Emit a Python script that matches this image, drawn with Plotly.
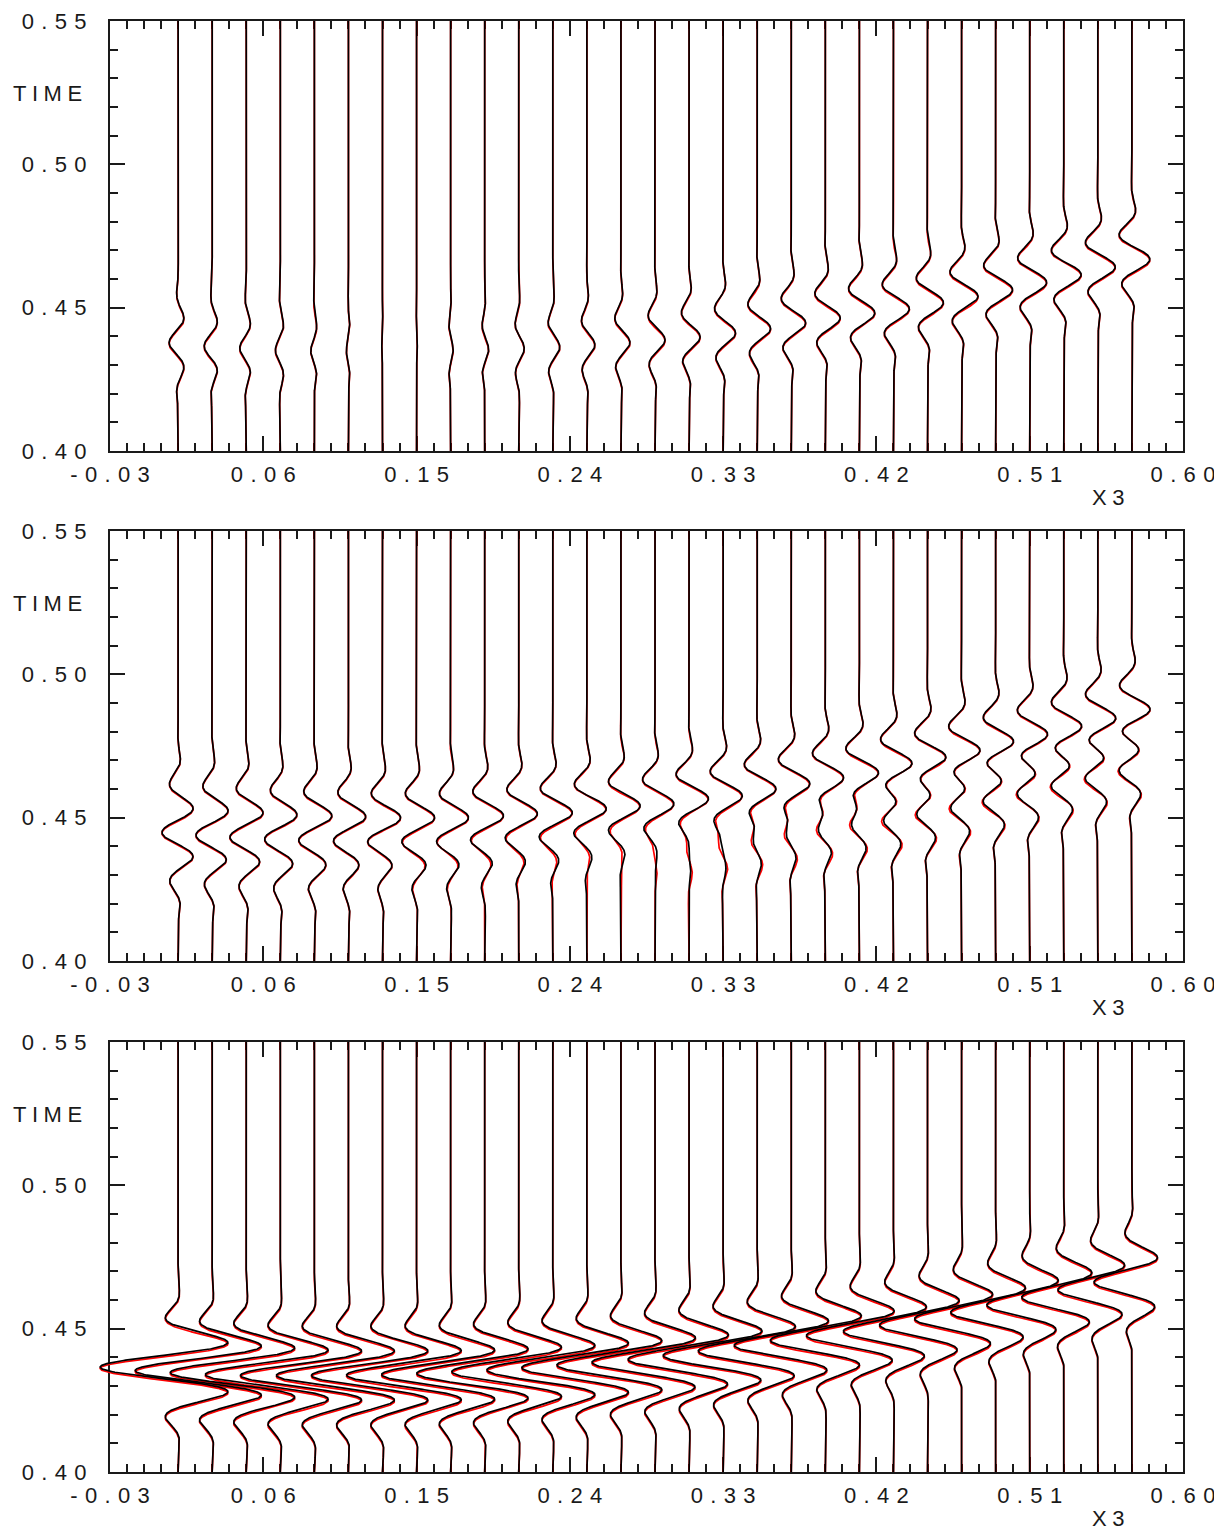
import numpy as np
import plotly.graph_objects as go

# ---------------- data ----------------
x_tick_vals = [-0.03, 0.06, 0.15, 0.24, 0.33, 0.42, 0.51, 0.60]
x_tick_labels = ["-0.03", "0.06", "0.15", "0.24", "0.33", "0.42", "0.51", "0.60"]
y_tick_vals = [0.40, 0.45, 0.50, 0.55]
y_tick_labels = ["0.40", "0.45", "0.50", "0.55"]
x_axis_title = "X3"
y_axis_title = "TIME"

# receiver positions (X3) of the 29 traces
trace_x3 = [0.01, 0.03, 0.05, 0.07, 0.09, 0.11, 0.13, 0.15, 0.17, 0.19,
            0.21, 0.23, 0.25, 0.27, 0.29, 0.31, 0.33, 0.35, 0.37, 0.39,
            0.41, 0.43, 0.45, 0.47, 0.49, 0.51, 0.53, 0.55, 0.57]

# panel 1 : one arrival per trace (time, signed amplitude in X3 units, phase)
p1_time = [0.4378, 0.4366, 0.4359, 0.4352, 0.4349, 0.4349, 0.4349, 0.4350, 0.4352, 0.4356,
           0.4362, 0.4368, 0.4376, 0.4385, 0.4395, 0.4406, 0.4420, 0.4436, 0.4456, 0.4474,
           0.4491, 0.4506, 0.4528, 0.4550, 0.4573, 0.4599, 0.4626, 0.4653, 0.4680]
p1_amp = [-0.0053, -0.0047, -0.0038, -0.0029, -0.0021, -0.0012, -0.0005, 0.0005, 0.0015, 0.0023,
          0.0032, 0.0041, 0.0047, 0.0053, 0.0059, 0.0065, 0.0073, 0.0079, 0.0085, 0.0088,
          0.0091, 0.0094, 0.0094, 0.0097, 0.0100, 0.0100, 0.0103, 0.0103, 0.0106]
p1_phase = [0, 0, 0, 0, 0, 0, 0, 0, 0.05, 0.10,
            0.15, 0.20, 0.22, 0.25, 0.27, 0.30, 0.30, 0.32, 0.33, 0.35,
            0.35, 0.36, 0.37, 0.38, 0.38, 0.39, 0.40, 0.40, 0.40]

# panel 2 : arrival A (positive) + arrival B (same times as panel 3)
p2a_time = [0.4534, 0.4527, 0.4520, 0.4513, 0.4509, 0.4506, 0.4502, 0.4502, 0.4502, 0.4509,
            0.4516, 0.4520, 0.4534, 0.4544, 0.4551, 0.4569, 0.4579, 0.4603, 0.4621, 0.4642,
            0.4659, 0.4691, 0.4712, 0.4736, 0.4767, 0.4792, 0.4820, 0.4848, 0.4879]
p2a_amp = [0.0076, 0.0082, 0.0088, 0.0088, 0.0094, 0.0094, 0.0100, 0.0100, 0.0100, 0.0106,
           0.0106, 0.0112, 0.0112, 0.0112, 0.0112, 0.0117, 0.0117, 0.0117, 0.0117, 0.0117,
           0.0123, 0.0117, 0.0117, 0.0117, 0.0112, 0.0112, 0.0112, 0.0112, 0.0112]
p2a_phase = [0.1] * 29
p2b_amp_black = [0.0076, 0.0070, 0.0065, 0.0059, 0.0053, 0.0047, 0.0041, 0.0041, 0.0035, 0.0029,
                 0.0023, 0.0018, 0.0012, 0.0006, -0.0006, -0.0018, -0.0029, -0.0041, -0.0047, -0.0059,
                 -0.0065, -0.0070, -0.0076, -0.0076, -0.0082, -0.0082, -0.0082, -0.0082, -0.0082]
p2b_amp_red = [0.0076, 0.0070, 0.0065, 0.0059, 0.0053, 0.0047, 0.0041, 0.0035, 0.0029, 0.0021,
               0.0015, 0.0006, 0.0000, -0.0009, -0.0021, -0.0032, -0.0044, -0.0053, -0.0059, -0.0070,
               -0.0076, -0.0082, -0.0085, -0.0085, -0.0088, -0.0088, -0.0088, -0.0088, -0.0088]

# panel 3 : one strong arrival per trace
p3_time = [0.4366, 0.4354, 0.4347, 0.4340, 0.4337, 0.4337, 0.4337, 0.4338, 0.4340, 0.4344,
           0.4350, 0.4356, 0.4364, 0.4373, 0.4383, 0.4394, 0.4408, 0.4424, 0.4444, 0.4462,
           0.4479, 0.4494, 0.4516, 0.4538, 0.4561, 0.4587, 0.4614, 0.4641, 0.4668]
p3_amp = [-0.0458, -0.0452, -0.0446, -0.0440, -0.0434, -0.0423, -0.0417, -0.0411, -0.0405, -0.0399,
          -0.0393, -0.0387, -0.0382, -0.0376, -0.0370, -0.0358, -0.0352, -0.0346, -0.0335, -0.0323,
          -0.0311, -0.0294, -0.0282, -0.0276, -0.0264, -0.0252, -0.0247, -0.0235, -0.0223]
p3_phase = [0, 0, 0, 0, 0, 0, 0, 0, 0, 0, 0, 0, 0, 0,
            0.02, 0.04, 0.05, 0.06, 0.08, 0.09, 0.10, 0.11, 0.12, 0.13, 0.14, 0.15, 0.16, 0.18, 0.20]

# red (second computation) time offsets per panel
red_time_shift = [-0.0004, -0.0003, -0.0005]

# source wavelet
WAVELET_FREQ = 53.1      # Hz
WAVELET_SIGMA = 0.0134   # s

# ---------------- helpers ----------------
t = np.linspace(0.40, 0.55, 1501)


def wavelet(tc, amp, ph):
    tau = t - tc
    return amp * np.exp(-(tau / WAVELET_SIGMA) ** 2) * np.cos(2 * np.pi * WAVELET_FREQ * tau + ph)


def panel_events(panel, k, red):
    dt = red_time_shift[panel] if red else 0.0
    if panel == 0:
        return [(p1_time[k] + dt, p1_amp[k], p1_phase[k])]
    if panel == 1:
        b = p2b_amp_red[k] if red else p2b_amp_black[k]
        return [(p2a_time[k] + dt, p2a_amp[k], p2a_phase[k]), (p3_time[k] + dt, b, 0.0)]
    return [(p3_time[k] + dt, p3_amp[k], p3_phase[k])]


def spaced(s, sep):
    return sep.join(list(s))


# The page has an 8px body margin: figure is 1214x1524, placed at (8, 8)
PAGE_OFF = 8
W, H = 1222 - PAGE_OFF, 1532 - PAGE_OFF


def fx_paper(px):
    return (px - PAGE_OFF) / W


def fy_paper(py):
    return 1 - (py - PAGE_OFF) / H


PX_LEFT, PX_RIGHT = 110, 1183
panel_tops = [21, 531, 1042]
PANEL_H = 430
X0, X1 = x_tick_vals[0], x_tick_vals[-1]
px_per_unit = (PX_RIGHT - PX_LEFT) / (X1 - X0)
EXTRA_LEFT_PX = 70
FONT = "Liberation Sans, Arial, Helvetica, sans-serif"
INK = "#1a1a1a"
FS = 22
SEP = "\u2004"

fig = go.Figure()
layout = dict(width=W, height=H, margin=dict(l=0, r=0, t=0, b=0, pad=0, autoexpand=False),
              paper_bgcolor="white", plot_bgcolor="rgba(0,0,0,0)",
              showlegend=False, annotations=[])

for p in range(3):
    fx = 2 * p + 1       # frame x-axis index
    dx = 2 * p + 2       # data x-axis index (wider, to let wiggles overflow to the left)
    yi = p + 1
    fxn = "x" if fx == 1 else f"x{fx}"
    dxn = f"x{dx}"
    yn = "y" if yi == 1 else f"y{yi}"
    top = panel_tops[p]
    ydom = [fy_paper(top + PANEL_H), fy_paper(top)]

    # frame axes
    layout["xaxis" if fx == 1 else f"xaxis{fx}"] = dict(
        domain=[fx_paper(PX_LEFT), fx_paper(PX_RIGHT)], range=[X0, X1], anchor=yn, automargin=False,
        showgrid=False, zeroline=False, showline=True, linecolor=INK, linewidth=2,
        mirror="ticks", ticks="inside", ticklen=15, tickwidth=1.5, tickcolor=INK,
        tickvals=x_tick_vals, ticktext=[spaced(s, SEP) for s in x_tick_labels],
        tickfont=dict(family=FONT, size=FS, color=INK), ticklabelstandoff=3,
        minor=dict(tickmode="linear", tick0=X0, dtick=0.01, ticks="inside", ticklen=8,
                   tickwidth=1.5, tickcolor=INK, showgrid=False),
    )
    layout["yaxis" if yi == 1 else f"yaxis{yi}"] = dict(
        domain=ydom, range=[y_tick_vals[0], y_tick_vals[-1]], anchor=fxn, automargin=False,
        showgrid=False, zeroline=False, showline=True, linecolor=INK, linewidth=2,
        mirror="ticks", ticks="inside", ticklen=15, tickwidth=1.5, tickcolor=INK,
        tickvals=y_tick_vals, ticktext=[spaced(s, SEP) for s in y_tick_labels],
        tickfont=dict(family=FONT, size=FS, color=INK), ticklabelstandoff=17,
        minor=dict(tickmode="linear", tick0=0.40, dtick=0.01, ticks="inside", ticklen=8,
                   tickwidth=1.5, tickcolor=INK, showgrid=False),
    )
    # data x-axis: same scale, extended a little to the left
    ext = EXTRA_LEFT_PX / px_per_unit
    layout[f"xaxis{dx}"] = dict(
        domain=[fx_paper(PX_LEFT - EXTRA_LEFT_PX), fx_paper(PX_RIGHT)], range=[X0 - ext, X1],
        anchor=yn, visible=False, showgrid=False, zeroline=False, automargin=False,
    )

    # empty trace so that the frame subplot is drawn
    fig.add_trace(go.Scatter(x=[None], y=[None], xaxis=fxn, yaxis=yn,
                             hoverinfo="skip", showlegend=False))

    for red in (True, False):
        xs, ys = [], []
        for k, x0 in enumerate(trace_x3):
            w = np.zeros_like(t)
            for (tc, a, ph) in panel_events(p, k, red):
                w += wavelet(tc, a, ph)
            xs.extend((x0 + w).tolist() + [None])
            ys.extend(t.tolist() + [None])
        fig.add_trace(go.Scatter(
            x=xs, y=ys, xaxis=dxn, yaxis=yn, mode="lines",
            line=dict(color="#ff0000" if red else "#000000", width=1.7),
            hoverinfo="skip", showlegend=False, name="red" if red else "black"))

    layout["annotations"].append(dict(
        text=spaced(y_axis_title, "\u2005"), x=fx_paper(47), y=fy_paper(top + 72.5),
        xref="paper", yref="paper", showarrow=False, xanchor="center", yanchor="middle",
        font=dict(family=FONT, size=FS, color=INK)))
    layout["annotations"].append(dict(
        text=spaced(x_axis_title, "\u2005"), x=fx_paper(1108), y=fy_paper(top + 490),
        xref="paper", yref="paper", showarrow=False, xanchor="center", yanchor="bottom",
        borderpad=0, font=dict(family=FONT, size=FS, color=INK)))

fig.update_layout(**layout)
fig.write_html("out.html")
